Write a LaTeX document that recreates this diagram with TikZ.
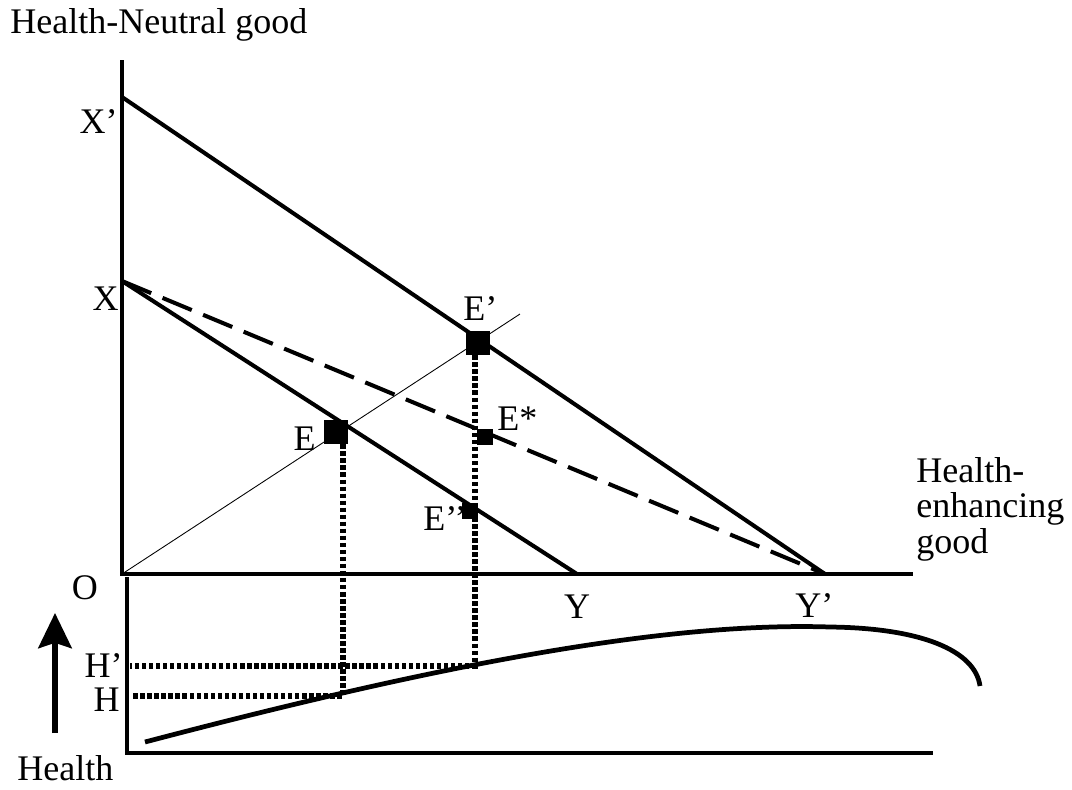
\documentclass[tikz,border=0pt]{standalone}
\usepackage{fontspec}
\setmainfont{Liberation Serif}
\usetikzlibrary{arrows.meta}

\begin{document}
\begin{tikzpicture}[
    x=0.02cm, y=-0.02cm,
    font=\fontsize{20.5}{20}\selectfont,
    axis/.style={line width=2.5pt},
    budget/.style={line width=2.3pt},
    ray/.style={line width=0.5pt},
    guide/.style={line width=3pt, dash pattern=on 2.6pt off 1.4pt},
    bigpt/.style={fill, minimum size=0.48cm, inner sep=0pt},
    smallpt/.style={fill, minimum size=0.32cm, inner sep=0pt},
    lbl/.style={inner sep=0pt}
]
\useasboundingbox (0,0) rectangle (1072,789);

% upper panel
\coordinate (top)  at (122,60);
\coordinate (O)    at (122,574);
\coordinate (xend) at (913,574);
\coordinate (Xp)   at (122,97);
\coordinate (X)    at (122,281);
\coordinate (Y)    at (577,574);
\coordinate (Yp)   at (825,574);
\coordinate (rayend) at (520,314);

% lower panel
\coordinate (hleft)   at (127,577);
\coordinate (hcorner) at (127,753);
\coordinate (hright)  at (933,753);
\coordinate (hstart)  at (145,742);
\coordinate (hpeak)   at (830,627);
\coordinate (hend)    at (980,686);
\coordinate (Ebot)    at (343,696);
\coordinate (Epbot)   at (475,666);
\coordinate (Hmark)   at (132,696);
\coordinate (Hpmark)  at (130,666);
\coordinate (uptail)  at (55,733);
\coordinate (uptip)   at (55,613);

\draw[axis] (top) -- (O) -- (xend);
\draw[axis] (hleft) -- (hcorner) -- (hright);

\draw[ray] (O) -- (rayend);
\draw[budget] (Xp) -- (Yp);
\draw[budget] (X) -- (Y);
\draw[budget, dash pattern=on 18pt off 7pt] (X) -- (Yp);

\draw[budget, line width=2.7pt] (hstart) .. controls (400,675) and (650,621) .. (hpeak)
    .. controls (920,628) and (975,650) .. (hend);

\draw[line width=3pt, -{Stealth[width=19pt,length=20pt,inset=3pt]}] (uptail) -- (uptip);

% labels
\node[lbl, anchor=base west] (ylab)  at (10,33)   {Health-Neutral good};
\node[lbl, anchor=base west, align=left] (xlab) at (916,553)
    {Health-\\enhancing\\good};
\node[lbl, anchor=base west] (hlab)  at (17,780)  {Health};
\node[lbl, anchor=base east] (lXp)   at (118,133) {X’};
\node[lbl, anchor=base east] (lX)    at (119,310) {X};
\node[lbl, anchor=base]      (lO)    at (85,599)  {O};
\node[lbl, anchor=base]      (lY)    at (577,618) {Y};
\node[lbl, anchor=base west] (lYp)   at (795,617) {Y’};
\node[lbl, anchor=base east] (lHp)   at (123,677) {H’};
\node[lbl, anchor=base east] (lH)    at (120,711) {H};
\node[lbl, anchor=base east] (lE)    at (316,450) {E};
\node[lbl, anchor=base west] (lEp)   at (463,320) {E’};
\node[lbl, anchor=base west] (lEs)   at (497,430) {E*};
\node[lbl, anchor=base west] (lEpp)  at (423,530) {E’’};

% points
\node[bigpt]   (E)   at (336,432) {};
\node[bigpt]   (Ep)  at (478,343) {};
\node[smallpt] (Es)  at (485,437) {};
\node[smallpt] (Epp) at (470,511) {};

\draw[guide] (E.south -| Ebot) -- (Ebot) -- (Hmark);
\draw[guide] (Ep.south -| Epbot) -- (Epbot) -- (Hpmark);

\end{tikzpicture}
\end{document}
